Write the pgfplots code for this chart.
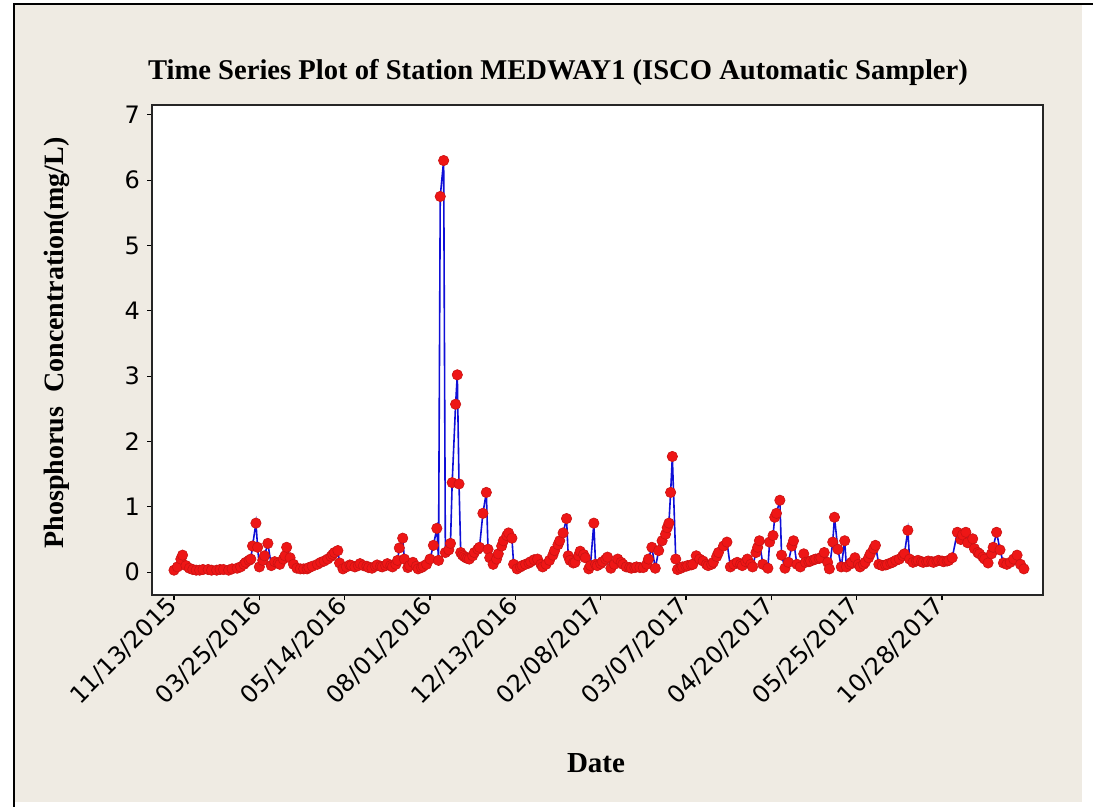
\documentclass[border=0pt]{standalone}
\usepackage{fontspec}
\setmainfont{Liberation Serif}
\newfontfamily\tickfont{DejaVu Sans}
\usepackage{pgfplots}
\pgfplotsset{compat=1.18}
\definecolor{bgbeige}{RGB}{239,235,227}
\definecolor{lineblue}{RGB}{15,15,215}
\definecolor{markred}{RGB}{238,22,22}
\pgfplotstableread{
idx val
1 0.03
3 0.08
5 0.2
6 0.26
8 0.1
10 0.06
12 0.04
14 0.03
16 0.03
18 0.04
21 0.04
23 0.03
26 0.03
28 0.04
30 0.04
33 0.03
35 0.05
38 0.06
40 0.08
42 0.12
43 0.15
45 0.18
46 0.2
47 0.4
49 0.75
50 0.38
51 0.08
53 0.18
54 0.25
56 0.44
58 0.1
60 0.16
62 0.14
63 0.12
65 0.2
66 0.25
67 0.38
69 0.22
71 0.12
73 0.06
75 0.05
77 0.05
79 0.05
80 0.07
82 0.09
85 0.12
87 0.15
89 0.17
91 0.2
93 0.24
94 0.27
95 0.3
97 0.33
98 0.14
100 0.05
102 0.08
104 0.11
105 0.1
107 0.08
109 0.1
110 0.13
112 0.1
114 0.09
115 0.07
117 0.06
119 0.09
120 0.11
122 0.09
123 0.08
125 0.1
126 0.13
128 0.1
129 0.08
131 0.12
132 0.18
133 0.37
135 0.52
136 0.2
138 0.07
139 0.1
141 0.15
143 0.09
144 0.05
146 0.07
147 0.09
149 0.12
151 0.2
153 0.41
155 0.67
156 0.18
157 5.75
159 6.3
160 0.3
162 0.34
163 0.44
164 1.37
166 2.57
167 3.02
168 1.35
169 0.3
170 0.26
171 0.24
172 0.22
173 0.21
174 0.2
176 0.25
177 0.3
179 0.35
180 0.38
182 0.9
184 1.22
185 0.35
186 0.22
188 0.12
190 0.2
191 0.28
193 0.4
194 0.48
196 0.56
197 0.6
199 0.52
200 0.12
202 0.05
204 0.08
205 0.1
207 0.12
209 0.14
210 0.16
212 0.19
214 0.2
216 0.12
217 0.08
219 0.12
221 0.18
223 0.26
224 0.33
226 0.42
227 0.48
229 0.6
231 0.82
232 0.25
233 0.18
235 0.14
236 0.15
238 0.25
239 0.32
241 0.27
242 0.22
244 0.05
245 0.1
247 0.75
248 0.12
249 0.1
251 0.13
252 0.16
254 0.2
255 0.23
257 0.06
259 0.12
261 0.2
263 0.15
264 0.12
266 0.08
268 0.07
269 0.06
271 0.07
272 0.08
274 0.07
276 0.07
278 0.12
279 0.2
281 0.38
283 0.06
285 0.33
287 0.48
289 0.58
290 0.68
291 0.75
292 1.22
293 1.77
295 0.2
296 0.04
298 0.06
299 0.08
301 0.09
302 0.1
304 0.11
305 0.12
307 0.25
309 0.2
311 0.17
313 0.12
314 0.1
316 0.12
317 0.15
319 0.24
320 0.3
323 0.4
325 0.46
327 0.08
329 0.12
331 0.15
333 0.12
334 0.1
336 0.16
337 0.2
339 0.12
340 0.08
342 0.3
343 0.38
344 0.48
346 0.12
349 0.06
350 0.46
352 0.56
353 0.84
354 0.9
356 1.1
357 0.26
359 0.06
361 0.15
363 0.4
364 0.48
366 0.12
368 0.08
370 0.28
371 0.15
373 0.16
374 0.17
376 0.19
377 0.2
379 0.21
380 0.22
382 0.3
384 0.15
385 0.05
387 0.46
388 0.84
390 0.35
392 0.08
394 0.48
395 0.08
397 0.12
398 0.15
400 0.22
402 0.12
403 0.08
405 0.12
406 0.15
408 0.22
409 0.28
411 0.36
412 0.41
414 0.12
416 0.1
418 0.11
419 0.12
421 0.14
422 0.15
424 0.18
426 0.2
428 0.25
429 0.28
431 0.64
432 0.2
434 0.15
436 0.17
437 0.18
439 0.16
440 0.15
442 0.16
443 0.17
445 0.16
446 0.15
448 0.17
449 0.18
451 0.17
452 0.16
454 0.17
455 0.18
457 0.22
460 0.61
462 0.5
463 0.57
465 0.61
466 0.45
469 0.51
470 0.36
472 0.3
473 0.28
475 0.23
476 0.2
478 0.14
480 0.28
481 0.38
483 0.61
485 0.34
487 0.14
489 0.12
491 0.15
493 0.2
495 0.26
497 0.12
499 0.05
}\phos
\begin{document}
\begin{tikzpicture}
\useasboundingbox (0,0) rectangle (546.5pt,-403.5pt);
\fill[white] (0,0) rectangle (546.5pt,-403.5pt);
\fill[bgbeige] (7pt,-2pt) rectangle (541pt,-401pt);
\draw[black,line width=1.2pt] (7pt,-403.5pt) -- (7pt,-2pt) -- (546.5pt,-2pt);
\begin{axis}[
  at={(76pt,-297.5pt)}, anchor=south west,
  width=445.5pt, height=245pt, scale only axis,
  xmin=-11.9, xmax=510.2, ymin=-0.35, ymax=7.15,
  axis background/.style={fill=white},
  axis line style={black!85, line width=0.8pt},
  xtick={1,51,...,451},
  xticklabels={11/13/2015,03/25/2016,05/14/2016,08/01/2016,12/13/2016,02/08/2017,03/07/2017,04/20/2017,05/25/2017,10/28/2017},
  ytick={0,1,...,7},
  tick pos=left, tick align=outside, major tick length=2.5pt,
  tick style={black, line width=0.6pt},
  /pgf/number format/assume math mode=true,
  xticklabel style={rotate=45, anchor=east, font=\tickfont\fontsize{12}{14}\selectfont, inner sep=1pt},
  yticklabel style={font=\tickfont\fontsize{12}{14}\selectfont},
]
\addplot[lineblue, line width=0.8pt, mark=*, mark size=2.6pt,
  mark options={fill=markred, draw=markred!85!black, line width=0.3pt, solid}]
  table[x=idx, y=val] {\phos};
\end{axis}
\node[anchor=base, font=\bfseries\fontsize{14.3}{16}\selectfont] at (279pt,-40pt)
  {Time Series Plot of Station MEDWAY1 (ISCO Automatic Sampler)};
\node[rotate=90, font=\bfseries\fontsize{14}{16}\selectfont] at (28.5pt,-171.5pt)
  {Phosphorus\ \ Concentration(mg/L)};
\node[font=\bfseries\fontsize{14.5}{16}\selectfont] at (298pt,-381.5pt) {Date};
\end{tikzpicture}
\end{document}
